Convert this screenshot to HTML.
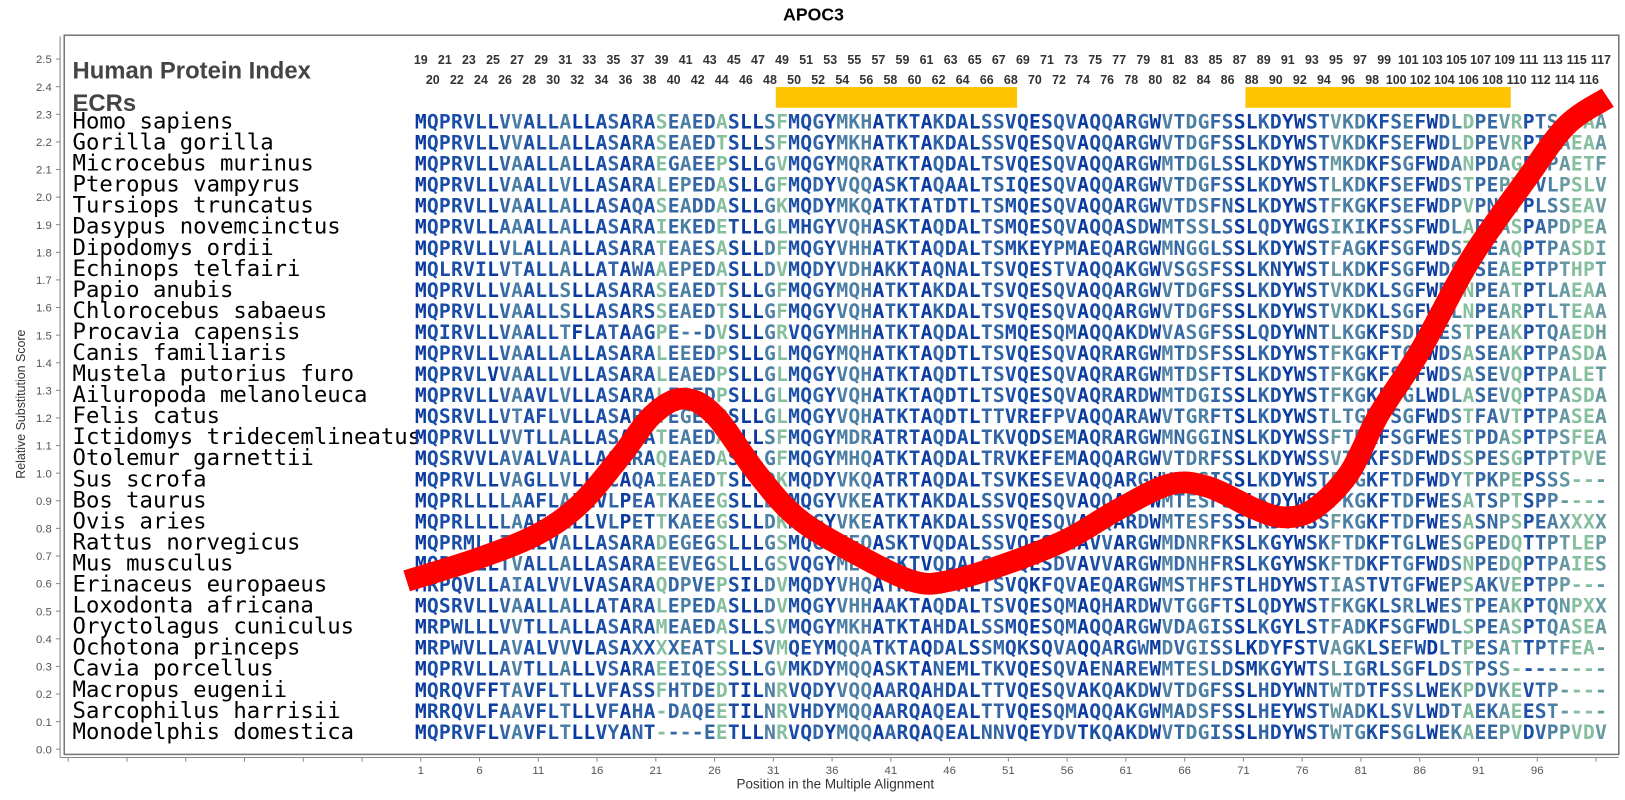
<!DOCTYPE html>
<html><head><meta charset="utf-8"><style>
html,body{margin:0;padding:0;background:#fff;}
svg{display:block;}
</style></head><body>
<svg id="chart" width="1625" height="800" viewBox="0 0 1568 772" preserveAspectRatio="none" xmlns="http://www.w3.org/2000/svg">
<text x="785" y="20" text-anchor="middle" font-family="Liberation Sans, sans-serif" font-weight="bold" font-size="17" fill="#000">APOC3</text>
<line x1="58" y1="35" x2="58" y2="731" stroke="#888" stroke-width="1"/>
<line x1="58" y1="731" x2="1562" y2="731" stroke="#888" stroke-width="1"/>
<rect x="62" y="34" width="1500" height="694" fill="#fff" stroke="#777" stroke-width="1.5"/>
<text transform="translate(24,390) rotate(-90)" text-anchor="middle" font-family="Liberation Sans, sans-serif" font-size="12" fill="#333">Relative Substitution Score</text>
<text x="806" y="761" text-anchor="middle" font-family="Liberation Sans, sans-serif" font-size="13" fill="#333">Position in the Multiple Alignment</text>
<text x="70" y="76" font-family="Liberation Sans, sans-serif" font-weight="bold" font-size="23" fill="#444">Human Protein Index</text>
<text x="70" y="107" font-family="Liberation Sans, sans-serif" font-weight="bold" font-size="23" fill="#444">ECRs</text>
<g id="ecr"></g>
<g id="hdr"></g>
<g id="yax"></g>
<g id="xax"></g>
<g id="labels"></g>
<g id="seqs"></g>
<g id="curve"></g>
</svg>
<script>
const species = ["Homo sapiens","Gorilla gorilla","Microcebus murinus","Pteropus vampyrus","Tursiops truncatus","Dasypus novemcinctus","Dipodomys ordii","Echinops telfairi","Papio anubis","Chlorocebus sabaeus","Procavia capensis","Canis familiaris","Mustela putorius furo","Ailuropoda melanoleuca","Felis catus","Ictidomys tridecemlineatus","Otolemur garnettii","Sus scrofa","Bos taurus","Ovis aries","Rattus norvegicus","Mus musculus","Erinaceus europaeus","Loxodonta africana","Oryctolagus cuniculus","Ochotona princeps","Cavia porcellus","Macropus eugenii","Sarcophilus harrisii","Monodelphis domestica"];
const sequences = [
"MQPRVLLVVALLALLASARASEAEDASLLSFMQGYMKHATKTAKDALSSVQESQVAQQARGWVTDGFSSLKDYWSTVKDKFSEFWDLDPEVRPTSAVAA",
"MQPRVLLVVALLALLASARASEAEDTSLLSFMQGYMKHATKTAKDALSSVQESQVAQQARGWVTDGFSSLKDYWSTVKDKFSEFWDLDPEVRPTSAEAA",
"MQPRVLLVAALLALLASARAEGAEEPSLLGVMQGYMQRATKTAQDALTSVQESQVAQQARGWMTDGLSSLKDYWSTMKDKFSGFWDANPDAGPTPAETF",
"MQPRVLLVAALLVLLASARALEPEDASLLGFMQDYVQQASKTAQAALTSIQESQVAQQARGWVTDGFSSLKDYWSTLKDKFSEFWDSTPEPTPVLPSLV",
"MQPRVLLVAALLALLASAQASEADDASLLGKMQDYMKQATKTATDTLTSMQESQVAQQARGWVTDSFNSLKDYWSTFKGKFSEFWDPVPNPTPLSSEAV",
"MQPRVLLAAALLALLASARAIEKEDETLLGLMHGYVQHASKTAQDALTSMQESQVAQQASDWMTSSLSSLQDYWGSIKIKFSSFWDLAPEASPAPDPEA",
"MQPRVLLVLALLALLASARATEAESASLLDFMQGYVHHATKTAQDALTSMKEYPMAEQARGWMNGGLSSLKDYWSTFAGKFSGFWDSTPEAQPTPASDI",
"MQLRVILVTALLALLATAWAAEPEDASLLDVMQDYVDHAKKTAQNALTSVQESTVAQQAKGWVSGSFSSLKNYWSTLKDKFSGFWDSTSEAEPTPTHPT",
"MQPRVLLVAALLSLLASARASEAEDTSLLGFMQGYMQHATKTAKDALTSVQESQVAQQARGWVTDGFSSLKDYWSTVKDKLSGFWDLNPEATPTLAEAA",
"MQPRVLLVAALLSLLASARSSEAEDTSLLGFMQGYVQHATKTAKDALTSVQESQVAQQARGWVTDGFSSLKDYWSTVKDKLSGFWDLNPEARPTLTEAA",
"MQIRVLLVAALLTFLATAAGPE--DVSLLGRVQGYMHHATKTAQDALTSMQESQMAQQAKDWVASGFSSLQDYWNTLKGKFSDFWESTPEAKPTQAEDH",
"MQPRVLLVAALLALLASARALEEEDPSLLGLMQGYMQHATKTAQDTLTSVQESQVAQRARGWMTDSFSSLKDYWSTFKGKFTGFWDSASEAKPTPASDA",
"MQPRVLVVAALLVLLASARALEAEDPSLLGLMQGYVQHATKTAQDTLTSVQESQVAQRARGWMTDSFTSLKDYWSTFKGKFSGFWDSASEVQPTPALET",
"MQPRVLLVAAVLVLLASARALEAEDPSLLGLMQGYVQHATKTAQDTLTSVQESQVAQRARDWMTDGISSLKDYWSTFKGKFSGLWDLASEVQPTPASDA",
"MQSRVLLVTAFLVLLASARATEGEDPSLLGLMQGYVQHATKTAQDTLTTVREFPVAQQARAWVTGRFTSLKDYWSTLTGKFSGFWDSTFAVTPTPASEA",
"MQPRVLLVVTLLALLASARATEAEDASLLSFMQGYMDRATRTAQDALTKVQDSEMAQRARGWMNGGINSLKDYWSSFTDKFSGFWESTPDASPTPSFEA",
"MQSRVVLAVALVALLASARAQEAEDASLLGFMQGYMHQATKTAQDALTRVKEFEMAQQARGWVTDRFSSLKDYWSSVTGKFSDFWDSSPESGPTPTPVE",
"MQPRVLLVAGLLVLLACAQAIEAEDTSLLDKMQDYVKQATRTAQDALTSVKESEVAQQARGWVTDSISSLKDYWSTFKGKFTDFWDYTPKPEPSSS---",
"MQPRLLLLAAFLALLVLPEATKAEEGSLLDKMQGYVKEATKTAKDALSSVQESQVAQQARDWMTESFSSLKDYWSSFKGKFTDFWESATSPTSPP----",
"MQPRLLLLAAFLALLVLPETTKAEEGSLLDKMQGYVKEATKTAKDALSSVQESQVAQQARDWMTESFSSLKDYWSSFKGKFTDFWESASNPSPEAXXXX",
"MQPRMLLIVALVALLASARADEGEGSLLLGSMQGYMEQASKTVQDALSSVQESDIAVVARGWMDNRFKSLKGYWSKFTDKFTGLWESGPEDQTTPTLEP",
"MQPRTLLTVALLALLASARAEEVEGSLLLGSVQGYMEQASKTVQDALSSVQESDVAVVARGWMDNHFRSLKGYWSKFTDKFTGFWDSNPEDQPTPAIES",
"MRPQVLLAIALVVLVASARAQDPVEPSILDVMQDYVHQATKTAQDALTSVQKFQVAEQARGWMSTHFSTLHDYWSTIASTVTGFWEPSAKVEPTPP---",
"MQSRVLLVAALLALLATARALEPEDASLLDVMQGYVHHAAKTAQDALTSVQESQMAQHARDWVTGGFTSLQDYWSTFKGKLSRLWESTPEAKPTQNPXX",
"MRPWLLLVVTLLALLASARAMEAEDASLLSVMQGYMKHATKTAHDALSSMQESQMAQQARGWVDAGISSLKGYLSTFADKFSGFWDLSPEASPTQASEA",
"MRPWVLLAVALVVVLASAXXXXEATSLLSVMQEYMQQATKTAQDALSSMQKSQVAQQARGWMDVGISSLKDYFSTVAGKLSEFWDLTPESATTPTFEA",
"MQPRVLLAVTLLALLVSARAEEIQESSLLGVMKDYMQQASKTANEMLTKVQESQVAENAREWMTESLDSMKGYWTSLIGRLSGFLDSTPSS--------",
"MQRQVFFTAVFLTLLVFASSFHTDEDTILNRVQDYVQQAARQAHDALTTVQESQVAKQAKDWVTDGFSSLHDYWNTWTDTFSSLWEKPDVKEVTP----",
"MRRQVLFAAVFLTLLVFAHA-DAQEETILNRVHDYMQQAARQAQEALTTVQESQMAQQAKGWMADSFSSLHEYWSTWADKLSVLWDTAEKAEEST----",
"MQPRVFLVAVFLTLLVYANT----EETLLNRVQDYMQQAARQAQEALNNVQEYDVTKQAKDWVTDGISSLHDYWSTWTGKFSGLWEKAEEPVDVPPVDV"
];
const yTicks = ["0.0","0.1","0.2","0.3","0.4","0.5","0.6","0.7","0.8","0.9","1.0","1.1","1.2","1.3","1.4","1.5","1.6","1.7","1.8","1.9","2.0","2.1","2.2","2.3","2.4","2.5"];
const xTickLabels = [1,6,11,16,21,26,31,36,41,46,51,56,61,66,71,76,81,86,91,96];
const curvePos = [-0.2,5.8,11,14.6,18,20.7,23.3,26,29.6,33,37.5,42.8,46,50.7,56,60.4,64.8,68,72,74.5,77,80,82.5,86,90.4,95,98.5,102];
const curveScore = [0.61,0.69,0.78,0.89,1.06,1.21,1.27,1.21,1.0,0.84,0.72,0.61,0.61,0.67,0.76,0.87,0.96,0.95,0.87,0.84,0.87,1.0,1.21,1.44,1.78,2.06,2.26,2.36];
const ecrStart = [49,88];
const ecrEnd = [68,109];
const colOffset = 18;

const NS = "http://www.w3.org/2000/svg";
const X = u => 406 + (u - 1) * 11.34;
const Y = v => 723 - v * 266.4;
const COLW = 11.62;
const colX = c => 406 + (c - 1) * COLW;
function mk(tag, attrs, parent, txt){
  const e = document.createElementNS(NS, tag);
  for (const k in attrs) e.setAttribute(k, attrs[k]);
  if (txt !== undefined) e.textContent = txt;
  parent.appendChild(e);
  return e;
}
const yax = document.getElementById('yax');
yTicks.forEach((t,i)=>{
  const v = parseFloat(t);
  const l = mk('line',{x1:54,x2:58,y1:Y(v),y2:Y(v),stroke:'#888'},yax);
  
  
  const tx = mk('text',{x:50,y:Y(v)+4,'text-anchor':'end','font-family':'Liberation Sans, sans-serif','font-size':'11',fill:'#555'},yax,t);
  
  
});
const xax = document.getElementById('xax');
for (let u = -29; u <= 101; u += 5){
  const l = mk('line',{x1:X(u),x2:X(u),y1:731,y2:735,stroke:'#888'},xax);
  
  
}
xTickLabels.forEach(u=>{
  const tx = mk('text',{x:X(u),y:747,'text-anchor':'middle','font-family':'Liberation Sans, sans-serif','font-size':'11',fill:'#555'},xax,String(u));
  
  
});
const ecr = document.getElementById('ecr');
ecrStart.forEach((s,i)=>{
  const c0 = s - colOffset, c1 = ecrEnd[i] - colOffset;
  const r = mk('rect',{x:colX(c0)-6,y:84,width:colX(c1)-colX(c0)+12,height:20,fill:'#ffc400'},ecr);
  
  
});
const hdr = document.getElementById('hdr');
for (let c = 1; c <= 99; c++){
  const n = c + colOffset;
  const odd = n % 2 === 1;
  const tx = mk('text',{x:colX(c),y:odd?62:81,'text-anchor':'middle','font-family':'Liberation Sans, sans-serif','font-weight':'bold','font-size':'12',fill:'#333'},hdr,String(n));
  
  
}
const N = 99;
const colColor = [];
for (let c = 0; c < N; c++){
  const cnt = {};
  sequences.forEach(s=>{const ch = s[c]||'-'; cnt[ch]=(cnt[ch]||0)+1;});
  let mx = 0; for (const k in cnt) if (k!=='-' && cnt[k]>mx) mx=cnt[k];
  const f = mx / sequences.length;
  colColor.push(f>=0.9?'#0a3a9f':f>=0.75?'#1a4ea6':f>=0.6?'#3466a6':f>=0.45?'#4c7fa4':f>=0.32?'#6699a0':'#86bf9e');
}
const labels = document.getElementById('labels');
const seqs = document.getElementById('seqs');
species.forEach((sp,i)=>{
  const y = 124 + i * 20.31;
  const lt = mk('text',{x:70,y:y,'font-family':'DejaVu Sans Mono, Liberation Mono, monospace','font-size':'21.5',fill:'#000'},labels,sp);
  
  
  const row = mk('text',{y:y,'font-family':'DejaVu Sans Mono, Liberation Mono, monospace','font-size':'19','font-weight':'bold'},seqs);
  
  
  const s = (sequences[i] + '-'.repeat(N)).slice(0,N);
  for (let c = 0; c < N; c++){
    mk('tspan',{x:colX(c+1),'text-anchor':'middle',fill:colColor[c]},row,s[c]);
  }
});
const pts = curvePos.map((p,i)=>[X(p),Y(curveScore[i])]);
let d = 'M'+pts[0][0]+','+pts[0][1];
for (let i=0;i<pts.length-1;i++){
  const p0=pts[Math.max(0,i-1)],p1=pts[i],p2=pts[i+1],p3=pts[Math.min(pts.length-1,i+2)];
  const c1=[p1[0]+(p2[0]-p0[0])/6,p1[1]+(p2[1]-p0[1])/6];
  const c2=[p2[0]-(p3[0]-p1[0])/6,p2[1]-(p3[1]-p1[1])/6];
  d+=' C'+c1[0]+','+c1[1]+' '+c2[0]+','+c2[1]+' '+p2[0]+','+p2[1];
}
const path = mk('path',{d:d,fill:'none',stroke:'#ff0000','stroke-width':'21','stroke-linejoin':'round','stroke-linecap':'butt'},document.getElementById('curve'));


</script>
</body></html>
